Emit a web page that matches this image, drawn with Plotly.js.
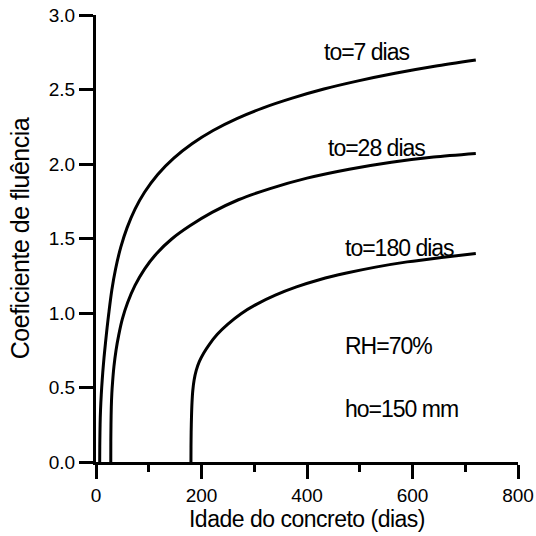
<!DOCTYPE html>
<html>
<head>
<meta charset="utf-8">
<script src="https://cdn.plot.ly/plotly-3.0.1.min.js"></script>
<style>
html,body{margin:0;padding:0;background:#fff;}
#chart{width:536px;height:536px;}
.annotation-text{letter-spacing:-1px;}
.xtitle,.ytitle{letter-spacing:-0.5px;}
</style>
</head>
<body>
<div id="chart"></div>
<script>
// Curve t0 = 7 dias
var t7Days = [7, 7.15, 7.5, 8.1, 9.2, 10.8, 12.8, 15.2, 18, 21, 24.3, 30, 37, 47, 59, 74, 92, 117, 147, 182, 222, 267, 317, 372, 432, 497, 567, 642, 720];
var t7Phi  = [0, 0.1, 0.2, 0.3, 0.4, 0.5, 0.6, 0.7, 0.8, 0.9, 1.0, 1.154, 1.294, 1.442, 1.573, 1.697, 1.810, 1.930, 2.038, 2.136, 2.225, 2.305, 2.377, 2.442, 2.503, 2.558, 2.609, 2.656, 2.698];
// Curve t0 = 28 dias
var t28Days = [28, 28.1, 28.4, 29, 30, 31.5, 34, 38, 43, 50, 60, 74, 92, 115, 143, 178, 220, 270, 330, 400, 480, 560, 640, 720];
var t28Phi  = [0, 0.14, 0.25, 0.37, 0.46, 0.54, 0.64, 0.75, 0.85, 0.96, 1.07, 1.185, 1.295, 1.40, 1.495, 1.585, 1.675, 1.76, 1.835, 1.905, 1.965, 2.012, 2.047, 2.071];
// Curve t0 = 180 dias
var t180Days = [180, 180.1, 180.4, 181, 182, 183.5, 186, 190, 196, 204, 215, 230, 250, 275, 305, 340, 380, 425, 475, 530, 590, 655, 720];
var t180Phi  = [0, 0.1, 0.2, 0.3, 0.4, 0.48, 0.55, 0.615, 0.675, 0.73, 0.79, 0.857, 0.925, 0.995, 1.06, 1.12, 1.175, 1.225, 1.268, 1.308, 1.343, 1.373, 1.40];

var xTicks = [0, 200, 400, 600, 800];
var yTicks = [0, 0.5, 1.0, 1.5, 2.0, 2.5, 3.0];
var yTickLabels = ["0.0", "0.5", "1.0", "1.5", "2.0", "2.5", "3.0"];

var labels = ["to=7 dias", "to=28 dias", "to=180 dias", "RH=70%", "ho=150 mm"];
var labelX = [428, 436, 468, 468, 468];
var labelY = [2.752, 2.107, 1.435, 0.777, 0.354];

var FONT = "Liberation Sans, Arial, sans-serif";
var lineStyle = {color: "#000", width: 3, shape: "spline", smoothing: 0.8};

var traces = [
  {x: t7Days, y: t7Phi, mode: "lines", line: lineStyle, hoverinfo: "skip"},
  {x: t28Days, y: t28Phi, mode: "lines", line: lineStyle, hoverinfo: "skip"},
  {x: t180Days, y: t180Phi, mode: "lines", line: lineStyle, hoverinfo: "skip"}
];

var annotations = labels.map(function(t, i){
  return {x: labelX[i], y: labelY[i], xref: "x", yref: "y", text: t, showarrow: false,
          xanchor: "left", yanchor: "middle", font: {family: FONT, size: 23, color: "#000"}};
});

var layout = {
  width: 536, height: 536,
  margin: {l: 96, r: 18, t: 15, b: 74, pad: 0},
  paper_bgcolor: "#fff", plot_bgcolor: "#fff",
  showlegend: false,
  font: {family: FONT, color: "#000"},
  xaxis: {
    range: [0, 800], tickmode: "array", tickvals: xTicks, ticktext: xTicks.map(String),
    ticks: "outside", ticklen: 14, tickwidth: 3, tickcolor: "#000",
    minor: {dtick: 100, tick0: 0, ticks: "outside", ticklen: 7, tickwidth: 3, tickcolor: "#000", showgrid: false},
    showline: true, linewidth: 3, linecolor: "#000", showgrid: false, zeroline: false,
    tickfont: {family: FONT, size: 19, color: "#000"},
    title: {text: "Idade do concreto (dias)", font: {family: FONT, size: 23, color: "#000"}, standoff: 4},
    fixedrange: true
  },
  yaxis: {
    range: [0, 3], tickmode: "array", tickvals: yTicks, ticktext: yTickLabels,
    ticks: "outside", ticklen: 14, tickwidth: 3, tickcolor: "#000",
    showline: true, linewidth: 3, linecolor: "#000", showgrid: false, zeroline: false,
    tickfont: {family: FONT, size: 19, color: "#000"},
    title: {text: "Coeficiente de fluência", font: {family: FONT, size: 25, color: "#000"}, standoff: 13},
    fixedrange: true
  },
  annotations: annotations
};

Plotly.newPlot("chart", traces, layout, {displayModeBar: false, staticPlot: true});
</script>
</body>
</html>
